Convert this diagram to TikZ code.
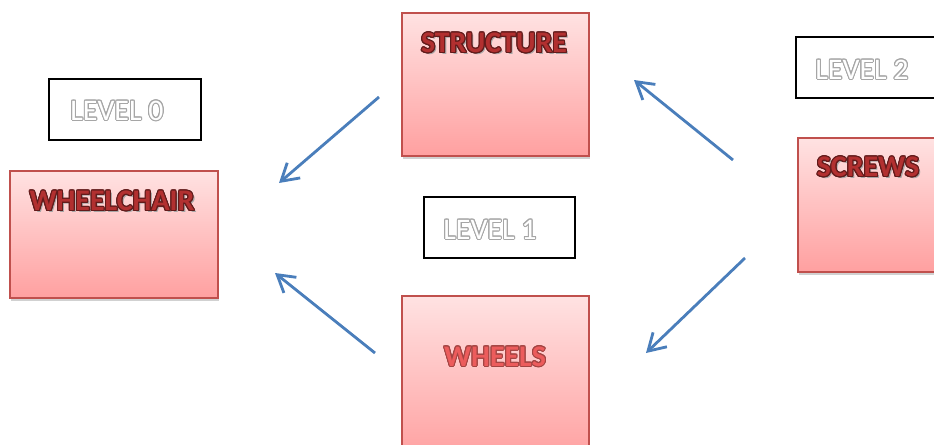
\documentclass[tikz,border=0pt]{standalone}
\usepackage{fontspec}
\setmainfont{Carlito}
\usepackage{contour}
\contourlength{0.9pt}
\usetikzlibrary{arrows.meta,shadows}

\definecolor{boxred}{RGB}{192,80,77}
\definecolor{pinktop}{RGB}{255,226,226}
\definecolor{pinkbot}{RGB}{255,160,160}
\definecolor{textred}{RGB}{178,48,48}
\definecolor{wheelred}{RGB}{236,92,92}
\definecolor{linkblue}{RGB}{74,126,187}

% red label with a soft shadow and a dark rim
\newcommand{\componentname}[2]{%
  \makebox[0pt][l]{\hspace{1.8pt}\raisebox{-1.8pt}{\textcolor{black!35}{#2}}}%
  \contour{textred!55!black}{\textcolor{#1}{#2}}}
% white label with a grey rim
\newcommand{\levelname}[1]{\contour{black!35}{\textcolor{white}{#1}}}

\tikzset{
  levelbox/.style={draw=black, line width=1.2pt, fill=white,
    minimum width=4.56cm, minimum height=1.83cm},
  partbox/.style={draw=boxred, line width=1.2pt, top color=pinktop, bottom color=pinkbot,
    drop shadow={shadow xshift=1pt, shadow yshift=-2.5pt, opacity=0.3, fill=black!60}},
  leveltext/.style={font=\fontsize{25.5}{29}\selectfont},
  parttext/.style={font=\fontsize{25.5}{29}\selectfont\bfseries},
  link/.style={draw=linkblue, line width=2.4pt, -{Straight Barb[length=5mm, width=6mm]}}
}

\begin{document}
\begin{tikzpicture}[x=0.03cm, y=-0.03cm]
    \useasboundingbox (0,0) rectangle (934,444);
    \clip (0,0) rectangle (934,444);

    % Level 0
    \node[levelbox] (level0) at (125,109.5) {};
    \node[leveltext] (level0text) at (117,111) {\levelname{LEVEL 0}};
    \node[partbox, minimum width=6.24cm, minimum height=3.81cm] (wheelchair) at (114,234.5) {};
    \node[parttext] (wheelchairtext) at (112,202) {\componentname{textred}{WHEELCHAIR}};

    % Level 1
    \node[partbox, minimum width=5.61cm, minimum height=4.29cm] (structure) at (495.5,84.5) {};
    \node[parttext] (structuretext) at (494,44) {\componentname{textred}{STRUCTURE}};
    \node[levelbox, minimum width=4.53cm] (level1) at (499.5,227.5) {};
    \node[leveltext] (level1text) at (490,230) {\levelname{LEVEL 1}};
    \node[partbox, minimum width=5.61cm, minimum height=4.92cm] (wheels) at (495.5,378) {};
    \node[parttext] (wheelstext) at (495,357) {\contour{boxred!85!black}{\textcolor{wheelred}{WHEELS}}};

    % Level 2
    \node[levelbox, minimum width=4.5cm] (level2) at (871,67.5) {};
    \node[leveltext] (level2text) at (862,70) {\levelname{LEVEL 2}};
    \node[partbox, minimum width=4.26cm, minimum height=4.02cm] (screws) at (869,205) {};
    \node[parttext] (screwstext) at (868,168) {\componentname{textred}{SCREWS}};

    % arrow ends
    \coordinate (a1) at (379,97);   \coordinate (b1) at (279,183);
    \coordinate (a2) at (375,353);  \coordinate (b2) at (275,273);
    \coordinate (a3) at (733,160);  \coordinate (b3) at (634,80);
    \coordinate (a4) at (745,258);  \coordinate (b4) at (646,353);

    \draw[link] (a1) -- (b1);
    \draw[link] (a2) -- (b2);
    \draw[link] (a3) -- (b3);
    \draw[link] (a4) -- (b4);
\end{tikzpicture}
\end{document}
